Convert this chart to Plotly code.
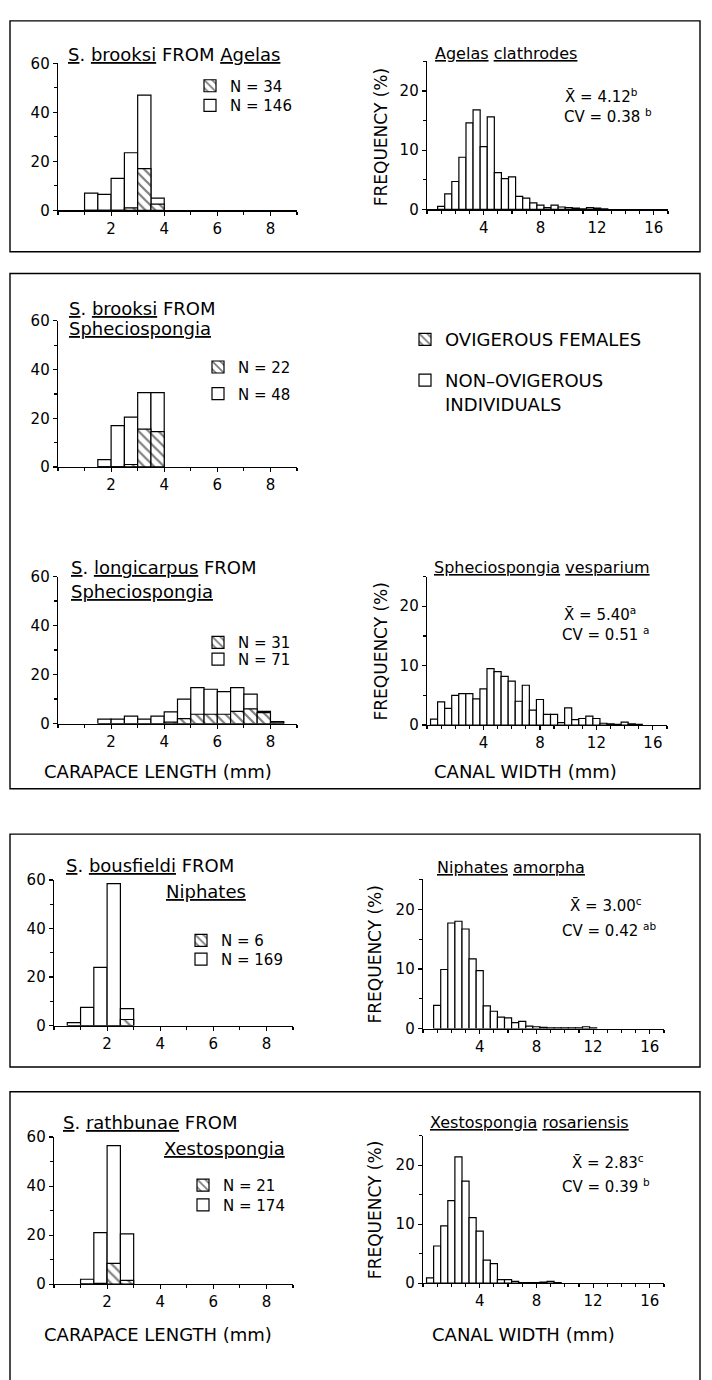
import plotly.graph_objects as go

W, H = 712, 1380
FONT = "DejaVu Sans"

# ---------------- DATA ----------------
# Carapace length (mm) bin centres and frequencies (%)
brooksi_agelas_len = [1.25, 1.75, 2.25, 2.75, 3.25, 3.75]
brooksi_agelas_all = [7.0, 6.5, 13.0, 23.5, 47.0, 5.0]
brooksi_agelas_ovig = [0.0, 0.0, 0.0, 1.0, 17.0, 2.5]

brooksi_sphec_len = [1.75, 2.25, 2.75, 3.25, 3.75]
brooksi_sphec_all = [3.0, 17.0, 20.5, 30.5, 30.5]
brooksi_sphec_ovig = [0.0, 0.0, 1.0, 15.5, 14.5]

longicarpus_len = [1.75, 2.25, 2.75, 3.25, 3.75, 4.25, 4.75, 5.25, 5.75, 6.25, 6.75, 7.25, 7.75, 8.25]
longicarpus_all = [1.8, 1.8, 3.0, 1.8, 3.0, 4.8, 10.0, 14.7, 14.0, 13.0, 14.7, 12.0, 5.0, 0.8]
longicarpus_ovig = [0.0, 0.0, 0.0, 0.0, 0.0, 0.6, 2.0, 3.8, 3.8, 3.8, 5.0, 6.0, 4.5, 0.3]

bousfieldi_len = [0.75, 1.25, 1.75, 2.25, 2.75]
bousfieldi_all = [1.2, 7.5, 24.0, 58.5, 7.0]
bousfieldi_ovig = [0.0, 0.0, 0.0, 0.0, 2.5]

rathbunae_len = [1.25, 1.75, 2.25, 2.75]
rathbunae_all = [2.0, 21.0, 56.5, 20.5]
rathbunae_ovig = [0.0, 0.3, 8.5, 1.5]

# Canal width (mm) bin centres and frequencies (%)
agelas_w = [1.0, 1.5, 2.0, 2.5, 3.0, 3.5, 4.0, 4.5, 5.0, 5.5, 6.0, 6.5, 7.0, 7.5, 8.0, 8.5,
            9.0, 9.5, 10.0, 10.5, 11.0, 11.5, 12.0, 12.5]
agelas_f = [0.5, 2.6, 4.7, 8.8, 14.6, 16.8, 10.6, 15.6, 6.2, 5.2, 5.5, 2.2, 1.9, 1.1, 0.7, 0.3,
            0.7, 0.4, 0.3, 0.2, 0.1, 0.3, 0.2, 0.1]

vesparium_w = [0.5, 1.0, 1.5, 2.0, 2.5, 3.0, 3.5, 4.0, 4.5, 5.0, 5.5, 6.0, 6.5, 7.0, 7.5, 8.0,
               8.5, 9.0, 9.5, 10.0, 10.5, 11.0, 11.5, 12.0, 12.5, 13.0, 13.5, 14.0, 14.5, 15.0]
vesparium_f = [1.0, 3.9, 2.8, 5.0, 5.3, 5.3, 4.4, 6.1, 9.5, 9.0, 8.2, 7.4, 4.0, 6.7, 2.5, 4.3,
               1.8, 1.8, 0.4, 2.9, 0.9, 1.1, 1.5, 1.1, 0.3, 0.2, 0.1, 0.5, 0.2, 0.1]

niphates_w = [1.0, 1.5, 2.0, 2.5, 3.0, 3.5, 4.0, 4.5, 5.0, 5.5, 6.0, 6.5, 7.0, 7.5, 8.0, 8.5,
              9.0, 9.5, 10.0, 10.5, 11.0, 11.5, 12.0]
niphates_f = [3.9, 9.9, 17.7, 18.0, 16.7, 11.7, 9.7, 3.8, 2.9, 1.9, 1.8, 1.0, 1.2, 0.4, 0.3, 0.2,
              0.1, 0.1, 0.1, 0.1, 0.1, 0.3, 0.1]

xesto_w = [0.5, 1.0, 1.5, 2.0, 2.5, 3.0, 3.5, 4.0, 4.5, 5.0, 5.5, 6.0, 6.5, 7.0, 7.5, 8.0,
           8.5, 9.0, 9.5]
xesto_f = [0.9, 6.3, 9.7, 14.0, 21.4, 17.3, 11.1, 8.8, 3.9, 3.3, 0.6, 0.6, 0.3, 0.1, 0.1, 0.1,
           0.2, 0.3, 0.1]

n_labels = {
    "A": ("N = 34", "N = 146"),
    "C": ("N = 22", "N = 48"),
    "D": ("N = 31", "N = 71"),
    "F": ("N = 6", "N = 169"),
    "H": ("N = 21", "N = 174"),
}

# ---------------- LAYOUT HELPERS ----------------
def px(p):
    return p / W


def py(p):
    return 1 - p / H


def U(s):
    return '<span style="text-decoration:underline">' + s + '</span>'


# axis index, (x_left, x_right, y_top, y_bottom) in window pixels
panels = {
    "A": (1, (58, 297, 55, 204)),
    "B": (2, (427, 668, 53, 203)),
    "C": (3, (58, 297, 316, 464)),
    "D": (4, (58, 297, 575, 724)),
    "E": (5, (427, 667, 575, 725.5)),
    "F": (6, (54, 293, 882.5, 1030)),
    "G": (7, (423, 664, 882, 1033)),
    "H": (8, (54, 293, 1143, 1292)),
    "I": (9, (423, 664, 1141.5, 1291)),
}
left_panels = ["A", "C", "D", "F", "H"]

fig = go.Figure()

BAR_LINE = dict(color="black", width=1.2)
HATCH = dict(shape="\\", fgcolor="black", bgcolor="white", size=7, solidity=0.32)

left_data = {
    "A": (brooksi_agelas_len, brooksi_agelas_all, brooksi_agelas_ovig),
    "C": (brooksi_sphec_len, brooksi_sphec_all, brooksi_sphec_ovig),
    "D": (longicarpus_len, longicarpus_all, longicarpus_ovig),
    "F": (bousfieldi_len, bousfieldi_all, bousfieldi_ovig),
    "H": (rathbunae_len, rathbunae_all, rathbunae_ovig),
}
right_data = {
    "B": (agelas_w, agelas_f),
    "E": (vesparium_w, vesparium_f),
    "G": (niphates_w, niphates_f),
    "I": (xesto_w, xesto_f),
}


def axref(i):
    return ("x" if i == 1 else f"x{i}", "y" if i == 1 else f"y{i}")


leg_counter = [0]


def next_legend():
    leg_counter[0] += 1
    return "legend" if leg_counter[0] == 1 else f"legend{leg_counter[0]}"


legend_layouts = {}


def legend_cfg(text_x, cy, size=15, valign="middle"):
    return dict(x=px(text_x - 45), y=py(cy), xanchor="left", yanchor="middle",
                bgcolor="rgba(0,0,0,0)", borderwidth=0, valign=valign,
                font=dict(family=FONT, size=size, color="black"))


legend_pos = {
    "A": ((235, 78), (235, 98)),
    "C": ((243, 363), (243, 390)),
    "D": ((243, 642), (243, 659)),
    "F": ((226, 944), (226, 963)),
    "H": ((228, 1192), (228, 1212)),
}

for key in left_panels:
    i, _ = panels[key]
    xr, yr = axref(i)
    xs, tot, ov = left_data[key]
    lab_ov, lab_all = n_labels[key]
    l_ov = next_legend()
    l_all = next_legend()
    fig.add_trace(go.Bar(x=xs, y=tot, width=0.5, name=lab_all, legend=l_all,
                         marker=dict(color="white", line=BAR_LINE),
                         xaxis=xr, yaxis=yr, hoverinfo="skip"))
    fig.add_trace(go.Bar(x=xs, y=ov, width=0.5, name=lab_ov, legend=l_ov,
                         marker=dict(color="white", pattern=HATCH, line=BAR_LINE),
                         xaxis=xr, yaxis=yr, hoverinfo="skip"))
    (p1, p2) = legend_pos[key]
    legend_layouts[l_ov] = legend_cfg(*p1)
    legend_layouts[l_all] = legend_cfg(*p2)

for key, (xs, fs) in right_data.items():
    i, _ = panels[key]
    xr, yr = axref(i)
    fig.add_trace(go.Bar(x=xs, y=fs, width=0.5, showlegend=False,
                         marker=dict(color="white", line=BAR_LINE),
                         xaxis=xr, yaxis=yr, hoverinfo="skip"))

# big legend (ovigerous / non-ovigerous)
l_big1 = next_legend()
l_big2 = next_legend()
fig.add_trace(go.Bar(x=[None], y=[None], name="OVIGEROUS FEMALES", legend=l_big1,
                     marker=dict(color="white", pattern=HATCH, line=BAR_LINE),
                     xaxis="x3", yaxis="y3", showlegend=True))
fig.add_trace(go.Bar(x=[None], y=[None], name="NON\u2013OVIGEROUS<br>INDIVIDUALS", legend=l_big2,
                     marker=dict(color="white", line=BAR_LINE),
                     xaxis="x3", yaxis="y3", showlegend=True))
legend_layouts[l_big1] = legend_cfg(450, 335, size=18)
legend_layouts[l_big2] = legend_cfg(450, 388, size=18, valign="top")

# ---------------- AXES ----------------
layout_axes = {}
for key, (i, (x0, x1, yt, yb)) in panels.items():
    xname = "xaxis" if i == 1 else f"xaxis{i}"
    yname = "yaxis" if i == 1 else f"yaxis{i}"
    common = dict(showline=True, linecolor="black", linewidth=1.3, ticks="outside",
                  ticklen=4, tickwidth=1.2, tickcolor="black", showgrid=False,
                  zeroline=False, fixedrange=True,
                  tickfont=dict(family=FONT, size=15, color="black"))
    if key in left_panels:
        xa = dict(range=[0, 9], tickvals=[2, 4, 6, 8],
                  minor=dict(tick0=0, dtick=1, ticks="outside", ticklen=3, tickcolor="black", showgrid=False))
        ya = dict(range=[0, 60], tick0=0, dtick=20,
                  minor=dict(tick0=0, dtick=10, ticks="outside", ticklen=3, tickcolor="black", showgrid=False))
    else:
        xa = dict(range=[0, 17], tickvals=[4, 8, 12, 16],
                  minor=dict(tick0=0, dtick=1, ticks="outside", ticklen=3, tickcolor="black", showgrid=False))
        ya = dict(range=[0, 25], tick0=0, dtick=10,
                  minor=dict(tick0=0, dtick=5, ticks="outside", ticklen=3, tickcolor="black", showgrid=False))
    xa.update(common)
    ya.update(common)
    xa.update(domain=[px(x0), px(x1)], anchor="y" if i == 1 else f"y{i}")
    ya.update(domain=[py(yb), py(yt)], anchor="x" if i == 1 else f"x{i}")
    layout_axes[xname] = xa
    layout_axes[yname] = ya

# ---------------- ANNOTATIONS ----------------
ann = []


def text(s, x, y, size, xanchor="left", angle=0):
    ann.append(dict(text=s, x=px(x), y=py(y), xref="paper", yref="paper",
                    xanchor=xanchor, yanchor="middle", showarrow=False, textangle=angle,
                    font=dict(family=FONT, size=size, color="black")))


XB = "X\u0304"
# Panel titles
text(U("S") + ". " + U("brooksi") + " FROM " + U("Agelas"), 66, 46, 18)
text(U("Agelas") + " " + U("clathrodes"), 433, 45, 16)
text(U("S") + ". " + U("brooksi") + " FROM", 67, 303, 18)
text(U("Spheciospongia"), 67, 324, 18)
text(U("S") + ". " + U("longicarpus") + " FROM", 69, 566, 18)
text(U("Spheciospongia"), 69, 590, 18)
text(U("Spheciospongia") + " " + U("vesparium"), 432, 566, 16)
text(U("S") + ". " + U("bousfieldi") + " FROM", 64, 868, 18)
text(U("Niphates"), 164, 894, 18)
text(U("Niphates") + " " + U("amorpha"), 435, 870, 16)
text(U("S") + ". " + U("rathbunae") + " FROM", 61, 1128, 18)
text(U("Xestospongia"), 162, 1155, 18)
text(U("Xestospongia") + " " + U("rosariensis"), 428, 1128, 16)

# statistics
text(XB + " = 4.12<sup>b</sup>", 563, 88, 15)
text("CV = 0.38 <sup>b</sup>", 562, 108, 15)
text(XB + " = 5.40<sup>a</sup>", 562, 613, 15)
text("CV = 0.51 <sup>a</sup>", 560, 633, 15)
text(XB + " = 3.00<sup>c</sup>", 568, 908, 15)
text("CV = 0.42 <sup>ab</sup>", 560, 933, 15)
text(XB + " = 2.83<sup>c</sup>", 570, 1168, 15)
text("CV = 0.39 <sup>b</sup>", 560, 1193, 15)

# axis titles
text("CARAPACE LENGTH (mm)", 158, 773, 18, xanchor="center")
text("CANAL WIDTH (mm)", 525, 773, 18, xanchor="center")
text("CARAPACE LENGTH (mm)", 158, 1343, 18, xanchor="center")
text("CANAL WIDTH (mm)", 523, 1343, 18, xanchor="center")
for (fx, fy) in [(381, 130), (381, 651), (375, 958), (375, 1217)]:
    text("FREQUENCY (%)", fx, fy, 17, xanchor="center", angle=-90)

# ---------------- FRAMES ----------------
shapes = []
for (y0, y1) in [(12, 246), (268, 790), (836, 1072), (1097, 1400)]:
    shapes.append(dict(type="rect", xref="paper", yref="paper",
                       x0=px(10), x1=px(700), y0=py(y1), y1=py(y0),
                       line=dict(color="black", width=1.4), fillcolor="rgba(0,0,0,0)"))

fig.update_layout(
    width=W, height=H, margin=dict(l=0, r=0, t=0, b=0),
    paper_bgcolor="white", plot_bgcolor="white",
    barmode="overlay", bargap=0,
    annotations=ann, shapes=shapes,
    font=dict(family=FONT, color="black"),
    hovermode=False,
    **layout_axes, **legend_layouts,
)

fig.write_html("out.html",
               config={"displayModeBar": False, "staticPlot": True},
               post_script="document.body.style.margin='0';document.body.style.overflow='hidden';")
